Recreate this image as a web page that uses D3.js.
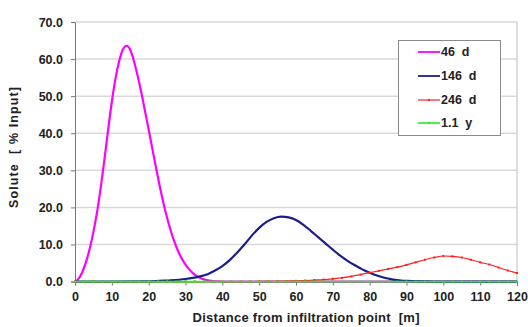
<!DOCTYPE html>
<html>
<head>
<meta charset="utf-8">
<script src="https://cdn.jsdelivr.net/npm/d3@7"></script>
<style>
  html, body { margin: 0; padding: 0; background: #fff; }
  svg text { font-family: "Liberation Sans", Arial, sans-serif; font-weight: bold; fill: #222; white-space: pre; }
</style>
</head>
<body>
<svg id="chart" width="528" height="327"></svg>
<script>
// ---- data ----
const yTicks = [0, 10, 20, 30, 40, 50, 60, 70];
const xTicks = [0, 10, 20, 30, 40, 50, 60, 70, 80, 90, 100, 110, 120];
const seriesNames = ["46  d", "146  d", "246  d", "1.1  y"];

const x46 = [0,1,2,3,4,5,6,7,8,9,10,11,12,13,14,15,16,17,18,19,20,21,22,23,24,25,26,27,28,29,30,31,32,33,34,35,36,37,38,39,40,45,50,60,70,80,90,100,110,120];
const y46 = [0,0.8,2.6,5.3,8.9,13.4,18.8,25.5,33,41,48.5,54.8,59.5,62.6,63.6,62.5,59.5,55.5,51,46,41,35.8,30.7,25.8,21.2,17.2,13.7,10.7,8.2,6.2,4.6,3.3,2.3,1.55,1.0,0.62,0.37,0.2,0.1,0.05,0.02,0,0,0,0,0,0,0,0,0];

const x146 = [0,10,20,25,30,32,34,36,38,40,42,44,46,48,50,52,54,56,58,60,62,64,66,68,70,72,74,76,78,80,82,84,86,88,90,95,100,110,120];
const y146 = [0,0,0.05,0.3,0.7,1.0,1.4,2.0,3.0,4.2,5.8,7.8,10,12.4,14.5,16.1,17.1,17.5,17.3,16.6,15.3,13.7,12.0,10.3,8.6,7.0,5.6,4.4,3.3,2.4,1.65,1.05,0.62,0.35,0.18,0.05,0,0,0];

const x246 = [0,2.5,5,7.5,10,12.5,15,17.5,20,22.5,25,27.5,30,32.5,35,37.5,40,42.5,45,47.5,50,52.5,55,57.5,60,62.5,65,67.5,70,72.5,75,77.5,80,82.5,85,87.5,90,92.5,95,97.5,100,102.5,105,107.5,110,112.5,115,117.5,120];
const y246 = [0,0,0,0,0,0,0,0,0,0,0,0,0,0,0,0,0,0,0,0.02,0.04,0.07,0.1,0.15,0.22,0.3,0.42,0.55,0.75,1.0,1.4,1.9,2.4,2.9,3.4,3.9,4.5,5.2,5.9,6.5,6.9,6.8,6.5,5.9,5.2,4.6,3.8,3.0,2.3];

const x11y = [0,2.5,5,7.5,10,12.5,15,17.5,20,22.5,25,27.5,30,32.5,35,37.5,40,42.5,45,47.5,50,52.5,55,57.5,60,62.5,65,67.5,70,72.5,75,77.5,80,82.5,85,87.5,90,92.5,95,97.5,100,102.5,105,107.5,110,112.5,115,117.5,120];
const y11y = [0,0,0,0,0,0,0,0,0,0,0,0,0,0,0,0,0,0,0,0,0,0,0,0,0,0,0,0,0,0,0,0,0,0,0,0,0,0,0,0,0,0,0,0,0,0,0,0,0];

// ---- chart ----
const svg = d3.select("#chart");
const x = d3.scaleLinear().domain([0, 120]).range([75, 517]);
const y = d3.scaleLinear().domain([0, 70]).range([281.6, 22]);

// gridlines
svg.append("g").selectAll("line").data(yTicks.filter(d => d > 0)).join("line")
  .attr("x1", x(0)).attr("x2", x(120))
  .attr("y1", d => y(d)).attr("y2", d => y(d))
  .attr("stroke", "#d9d9d9").attr("stroke-width", 1.5);

// right border
svg.append("line").attr("x1", x(120)).attr("x2", x(120))
  .attr("y1", y(70)).attr("y2", y(0)).attr("stroke", "#c8c8c8").attr("stroke-width", 1.2);

// y axis
const yAxis = svg.append("g").attr("transform", `translate(${x(0)},0)`)
  .call(d3.axisLeft(y).tickValues(yTicks).tickFormat(d3.format(".1f")).tickSize(4).tickPadding(8));
yAxis.select(".domain").attr("stroke", "#777");
yAxis.selectAll(".tick line").attr("stroke", "#777");
yAxis.selectAll("text").style("font-size", "12.5px").attr("fill", "#222");

// x axis
const xAxis = svg.append("g").attr("transform", `translate(0,${y(0)})`)
  .call(d3.axisBottom(x).tickValues(xTicks).tickFormat(d3.format("d")).tickSize(4).tickPadding(7));
xAxis.select(".domain").attr("stroke", "#777");
xAxis.selectAll(".tick line").attr("stroke", "#777");
xAxis.selectAll("text").style("font-size", "12.5px").attr("fill", "#222");

// axis titles
svg.append("text").attr("x", 306).attr("y", 322).attr("text-anchor", "middle")
  .attr("textLength", 227).attr("lengthAdjust", "spacing")
  .style("font-size", "13px").text("Distance from infiltration point  [m]");
svg.append("text").attr("transform", "translate(18,147.5) rotate(-90)").attr("text-anchor", "middle")
  .attr("textLength", 121).attr("lengthAdjust", "spacing")
  .style("font-size", "12.5px").text("Solute  [ % Input]");

const line = d3.line().x(d => x(d[0])).y(d => y(d[1])).curve(d3.curveMonotoneX);

const series = [
  { name: seriesNames[0], xs: x46, ys: y46, color: "#ff00ff", w: 2.2, markers: false },
  { name: seriesNames[1], xs: x146, ys: y146, color: "#1c1c8a", w: 2.2, markers: false },
  { name: seriesNames[2], xs: x246, ys: y246, color: "#ff2020", w: 1.2, markers: true },
  { name: seriesNames[3], xs: x11y, ys: y11y, color: "#22ee22", w: 1.6, markers: true }
];

series.forEach(s => {
  const pts = s.xs.map((v, i) => [v, s.ys[i]]);
  svg.append("path").datum(pts).attr("d", line)
    .attr("fill", "none").attr("stroke", s.color).attr("stroke-width", s.w)
    .attr("stroke-linejoin", "round");
  if (s.markers) {
    svg.append("g").selectAll("rect").data(pts).join("rect")
      .attr("x", d => x(d[0]) - 1).attr("y", d => y(d[1]) - 1)
      .attr("width", 2).attr("height", 2).attr("fill", s.color);
  }
});

// legend
const lg = svg.append("g");
lg.append("rect").attr("x", 398.5).attr("y", 40.5).attr("width", 102).attr("height", 95)
  .attr("fill", "#fff").attr("stroke", "#8a8a8a").attr("stroke-width", 1);
const rowY = [52, 76, 100, 123];
series.forEach((s, i) => {
  lg.append("line").attr("x1", 418).attr("x2", 440).attr("y1", rowY[i]).attr("y2", rowY[i])
    .attr("stroke", s.color).attr("stroke-width", Math.min(s.w, 1.8));
  if (s.markers) {
    lg.append("rect").attr("x", 428).attr("y", rowY[i] - 1).attr("width", 2).attr("height", 2).attr("fill", s.color);
  }
  lg.append("text").attr("x", 441).attr("y", rowY[i] + 4).style("font-size", "12.5px").text(s.name);
});
</script>
</body>
</html>
